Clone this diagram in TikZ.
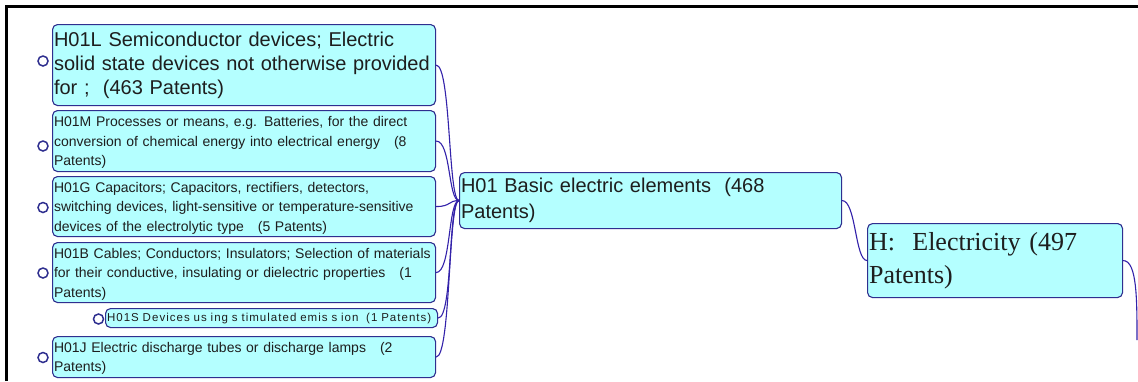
\documentclass[tikz,border=0pt]{standalone}
\usepackage{fontspec}
\setmainfont{Liberation Sans}
\newfontfamily\serifface{Liberation Serif}
\definecolor{boxfill}{HTML}{B4FFFF}
\definecolor{boxline}{HTML}{2F2F8F}
\definecolor{wire}{HTML}{3322AA}
\definecolor{ink}{HTML}{1E1E1E}
\tikzset{
  topic/.style={draw=boxline, fill=boxfill, rounded corners=5pt, line width=1.1pt,
    anchor=north west, inner xsep=1.5pt, inner ysep=0pt, align=left, text=ink},
  knob/.style={circle, draw=boxline, fill=white, line width=1.5pt,
    minimum size=10pt, inner sep=0pt},
  branch/.style={draw=wire, line width=1.1pt},
  frameline/.style={line width=3pt, black}
}
\newcommand{\fs}[2]{\fontsize{#1}{#2}\selectfont}
\begin{document}
\begin{tikzpicture}[x=1pt,y=-1pt]
\useasboundingbox[fill=white] (0,0) rectangle (1138,381);

% window frame
\coordinate (fb) at (6.5,381);
\coordinate (fc) at (6.5,6.5);
\coordinate (fr) at (1138,6.5);
\draw[frameline] (fb) -- (fc) -- (fr);

% subclass topics
\node[topic, text width=380pt, minimum height=81pt, font=\fs{20}{24}] (L) at (52,24)
  {H01L Semiconductor devices; Electric\\solid state devices not otherwise provided\\for ;\ \ (463 Patents)};
\node[topic, text width=380pt, minimum height=61pt, font=\fs{14}{19.5}] (M) at (52,110)
  {\rule{0pt}{13pt}H01M Processes or means, e.g. Batteries, for the direct\\conversion of chemical energy into electrical energy\ \ \ (8\\Patents)};
\node[topic, text width=380pt, minimum height=60pt, font=\fs{14}{19.5}] (G) at (52,176)
  {\rule{0pt}{13pt}H01G Capacitors; Capacitors, rectifiers, detectors,\\switching devices, light-sensitive or temperature-sensitive\\devices of the electrolytic type\ \ \ (5 Patents)};
\node[topic, text width=380pt, minimum height=60pt, font=\fs{14}{19.5}] (B) at (52,242)
  {\rule{0pt}{13pt}H01B Cables; Conductors; Insulators; Selection of materials\\for their conductive, insulating or dielectric properties\ \ \ (1\\Patents)};
\node[topic, text width=329pt, minimum height=19pt, font=\fs{11.5}{14}\addfontfeature{LetterSpace=9}] (S) at (105,308)
  {H01S Devices us ing s timulated emis s ion\ \ (1 Patents)};
\node[topic, text width=380pt, minimum height=41pt, font=\fs{14}{19.5}] (J) at (52,336)
  {\rule{0pt}{13pt}H01J Electric discharge tubes or discharge lamps\ \ \ (2\\Patents)};

% class and section topics
\node[topic, text width=379pt, minimum height=56pt, font=\fs{20}{26}] (H01) at (459,172)
  {H01 Basic electric elements\ \ (468\\Patents)};
\node[topic, text width=252pt, minimum height=74pt, font=\serifface\fs{26}{33}] (H) at (867,223)
  {H:\ \ Electricity (497\\Patents)};

% collapse knobs
\node[knob] (kL) at (43,61) {};
\node[knob] (kM) at (43,146) {};
\node[knob] (kG) at (43,207.5) {};
\node[knob] (kB) at (43,273) {};
\node[knob] (kS) at (98.5,319) {};
\node[knob] (kJ) at (43,357.5) {};

% branches
\foreach \c in {L,M,G,B,S,J}
  \draw[branch] (\c.east) .. controls +(15,0) and +(-11,0) .. (H01.west);
\draw[branch] (H01.east) .. controls +(14,0) and +(-12,0) .. (H.west);
\coordinate (up) at (1137,340);
\draw[branch] (H.east) .. controls +(14,0) and +(0,-40) .. (up);
\end{tikzpicture}
\end{document}
